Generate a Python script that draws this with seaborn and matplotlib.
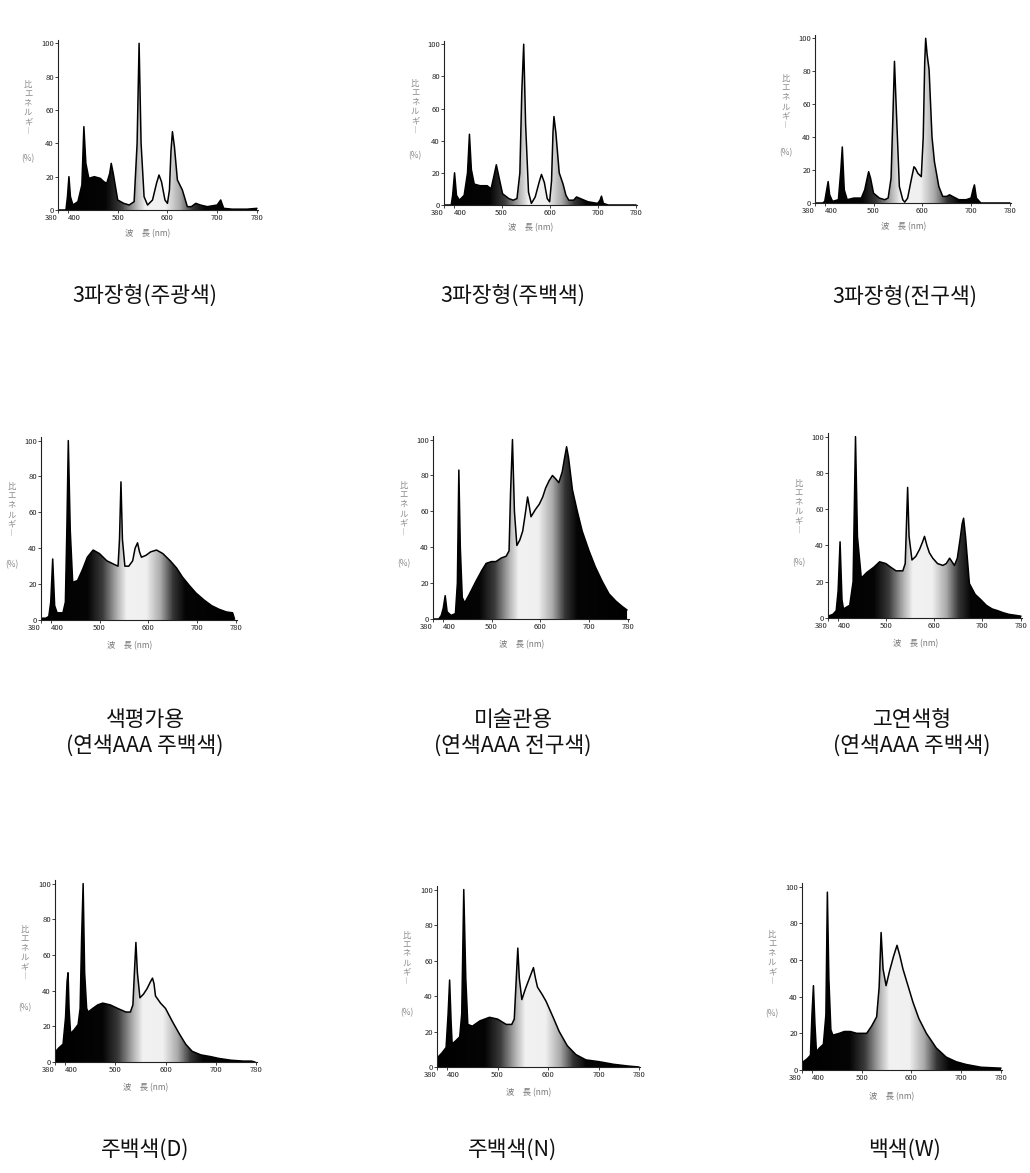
import numpy as np
import pandas as pd
import seaborn as sns
import matplotlib.pyplot as plt
from matplotlib.colors import LinearSegmentedColormap

# spectra: wavelength (nm) / relative energy (%)
wl1 = [380, 396, 399, 402, 405, 410, 420, 428, 432, 436, 442, 453, 465, 472, 478, 484, 487, 491,
       500, 512, 523, 533, 539, 543, 547, 553, 560, 570, 578, 583, 588, 595, 600, 604, 607, 610,
       614, 620, 630, 640, 648, 657, 666, 680, 700, 707, 713, 730, 760, 780]
val1 = [0, 0, 8, 20, 8, 3, 5, 15, 50, 28, 19, 20, 19, 17, 16, 22, 28, 22,
        6, 4, 3, 5, 40, 100, 40, 8, 3, 6, 16, 21, 17, 6, 4, 12, 35, 47,
        38, 18, 12, 2, 2, 4, 3, 2, 3, 6, 1, 0.5, 0.5, 1]

wl2 = [380, 395, 398, 402, 406, 412, 422, 429, 433, 437, 443, 455, 470, 478, 484, 489, 494, 502,
       515, 524, 532, 538, 542, 546, 550, 556, 562, 570, 578, 583, 589, 595, 600, 604, 607, 609,
       613, 620, 628, 634, 640, 650, 656, 664, 680, 700, 705, 708, 712, 722, 780]
val2 = [0, 0, 6, 20, 6, 3, 6, 20, 44, 22, 13, 12, 12, 10, 18, 25, 18, 7,
        4, 3, 4, 20, 70, 100, 50, 8, 1, 5, 14, 19, 14, 4, 2, 15, 45, 55,
        45, 20, 13, 6, 3, 3, 5, 4, 2, 1, 3, 5.5, 1, 0, 0]

wl3 = [380, 396, 400, 404, 407, 410, 416, 428, 433, 436, 440, 446, 460, 475, 482, 487, 490, 494,
       500, 512, 523, 530, 536, 540, 543, 547, 553, 560, 564, 570, 578, 583, 586, 591, 598, 602,
       605, 607, 610, 614, 620, 625, 628, 634, 642, 650, 656, 662, 675, 690, 700, 704, 707, 711,
       720, 780]
val3 = [0, 0, 1, 8, 13, 5, 1, 2, 20, 34, 8, 2, 3, 3, 8, 15, 19, 15,
        6, 3, 2, 3, 15, 55, 86, 55, 10, 2, 0.5, 3, 15, 22, 21, 18, 16, 40,
        85, 100, 90, 81, 40, 25, 20, 10, 4, 4, 5, 4, 2, 2, 3, 8, 11, 3,
        0, 0]

wl4 = [380, 390, 396, 400, 404, 408, 413, 425, 430, 433, 436, 440, 445, 455, 465, 475, 487, 500,
       515, 530, 538, 541, 544, 547, 552, 560, 568, 573, 578, 582, 586, 595, 605, 617, 630, 645,
       658, 670, 685, 698, 715, 730, 745, 760, 773, 777]
val4 = [1, 1, 2, 10, 34, 8, 4, 4, 10, 50, 100, 50, 21, 22, 28, 35, 39, 37,
        33, 31, 30, 45, 77, 45, 30, 30, 33, 40, 43, 38, 35, 36, 38, 39, 37, 33,
        29, 24, 19, 15, 11, 8, 6, 4.5, 4, 0.5]

wl5 = [380, 392, 397, 401, 405, 409, 417, 426, 430, 433, 436, 440, 445, 455, 468, 480, 489, 500,
       509, 520, 530, 536, 539, 543, 547, 552, 558, 564, 570, 574, 578, 581, 590, 598, 605, 611,
       618, 625, 632, 638, 645, 650, 654, 658, 666, 676, 686, 700, 713, 727, 741, 755, 768, 778]
val5 = [0, 0, 2, 6, 13, 4, 2, 3, 20, 83, 40, 12, 9, 14, 21, 27, 31, 32,
        32, 34, 35, 38, 70, 100, 60, 41, 44, 49, 60, 68, 62, 57, 61, 64, 68, 73,
        77, 80, 78, 76, 82, 90, 96, 90, 72, 60, 49, 38, 29, 21, 14, 10, 7, 5]

wl6 = [380, 390, 397, 401, 405, 409, 412, 425, 432, 437, 441, 449, 460, 475, 487, 500, 510, 521,
       535, 540, 543, 545, 548, 554, 562, 570, 576, 580, 585, 590, 597, 607, 618, 625, 632, 637,
       642, 648, 654, 658, 661, 665, 673, 685, 697, 708, 720, 732, 742, 755, 768, 780]
val6 = [1, 2, 4, 15, 42, 10, 5, 7, 20, 100, 45, 22, 25, 28, 31, 30, 28, 26,
        26, 30, 55, 72, 45, 32, 34, 38, 42, 45, 40, 36, 33, 30, 29, 30, 33, 31,
        29, 33, 44, 52, 55, 45, 19, 13, 10, 7, 5, 4, 3, 2, 1.5, 1]

wl7 = [380, 388, 396, 401, 404, 406, 408, 411, 418, 426, 430, 433, 436, 439, 443, 446, 455, 465,
       475, 490, 505, 521, 530, 535, 538, 541, 544, 549, 556, 563, 570, 574, 577, 580, 590, 600,
       613, 627, 640, 653, 670, 690, 706, 730, 755, 771, 778]
val7 = [5.5, 8, 10, 25, 45, 50, 30, 16, 18, 21, 30, 70, 100, 50, 30, 28, 30, 32,
        33, 32, 30, 28, 28, 32, 50, 67, 50, 36, 38, 41, 45, 47, 44, 37, 33, 30,
        23, 16, 10, 6, 4, 3, 2, 1, 0.5, 0.5, 0]

wl8 = [380, 390, 398, 402, 405, 408, 410, 418, 425, 429, 433, 437, 441, 450, 465, 484, 500, 517,
       528, 533, 537, 540, 543, 548, 555, 563, 571, 575, 579, 588, 596, 610, 622, 638, 655, 675,
       701, 730, 760, 780]
val8 = [5, 8, 11, 30, 49, 25, 13, 15, 17, 30, 100, 50, 24, 23, 26, 28, 27, 24,
        24, 27, 50, 67, 50, 38, 44, 50, 56, 50, 45, 41, 37, 28, 20, 12, 7, 4,
        3, 1.5, 0.5, 0]

wl9 = [380, 390, 397, 400, 403, 406, 409, 415, 423, 428, 431, 434, 438, 442, 455, 465, 477, 490,
       500, 510, 520, 530, 535, 539, 543, 549, 556, 564, 571, 577, 583, 593, 603, 615, 630, 650,
       670, 690, 710, 740, 780]
val9 = [4, 6, 8, 30, 46, 25, 10, 12, 14, 30, 97, 50, 22, 19, 20, 21, 21, 20,
        20, 20, 24, 29, 45, 75, 55, 46, 54, 62, 68, 62, 55, 46, 37, 28, 20, 12,
        7, 4.5, 3, 1.5, 1]

captions = ["3파장형(주광색)", "3파장형(주백색)", "3파장형(전구색)",
            "색평가용\n(연색AAA 주백색)", "미술관용\n(연색AAA 전구색)", "고연색형\n(연색AAA 주백색)",
            "주백색(D)", "주백색(N)", "백색(W)"]
x_ticks = [380, 400, 500, 600, 700, 780]
y_ticks = [0, 20, 40, 60, 80, 100]

spectra = [(wl1, val1), (wl2, val2), (wl3, val3),
           (wl4, val4), (wl5, val5), (wl6, val6),
           (wl7, val7), (wl8, val8), (wl9, val9)]

# axes boxes in pixels: left, top, right, bottom
W, H = 1030, 1173
boxes = [(58, 40, 258, 210), (444, 41, 637, 205), (815, 35, 1011, 203),
         (41, 437, 237, 620), (433, 436, 629, 619), (828, 433, 1022, 618),
         (55, 880, 257, 1062), (437, 886, 640, 1067), (802, 883, 1002, 1070)]
cap_pos = [(145, 297), (513, 297), (905, 297),
           (145, 733), (513, 733), (912, 733),
           (145, 1150), (513, 1150), (905, 1150)]

# grey shading along wavelength, dark at the ends, light around yellow-green
stops = [(380, "#000000"), (475, "#050505"), (505, "#3a3a3a"), (535, "#b0b0b0"),
         (555, "#f2f2f2"), (595, "#f0f0f0"), (625, "#a8a8a8"), (650, "#353535"),
         (675, "#050505"), (780, "#000000")]
shade = LinearSegmentedColormap.from_list(
    "spec", [((w - 380) / 400, c) for w, c in stops])

sns.set_theme(style="ticks")
plt.rcParams["font.family"] = ["Noto Sans CJK KR", "DejaVu Sans"]

fig = plt.figure(figsize=(W / 100, H / 100), dpi=100)

for (wl, val), (l, t, r, b) in zip(spectra, boxes):
    ax = fig.add_axes([l / W, 1 - b / H, (r - l) / W, (b - t) / H])
    df = pd.DataFrame({"wl": wl, "val": val})
    poly = ax.fill_between(df["wl"], 0, df["val"], facecolor="none", edgecolor="none")
    img = ax.imshow(np.linspace(380, 780, 401)[None, :], cmap=shade, vmin=380, vmax=780,
                    extent=[380, 780, 0, 100], aspect="auto", interpolation="bilinear")
    img.set_clip_path(poly.get_paths()[0], transform=ax.transData)
    sns.lineplot(data=df, x="wl", y="val", ax=ax, color="black", linewidth=1.1)

    ax.set_xlim(380, 782)
    ax.set_ylim(0, 102)
    ax.set_xticks(x_ticks)
    ax.set_yticks(y_ticks)
    ax.set_xlabel("")
    ax.set_ylabel("")
    ax.tick_params(labelsize=5.5, length=2, width=0.6, pad=1, colors="#222")
    xl = ax.get_xticklabels()
    xl[0].set_ha("right")
    xl[1].set_ha("left")
    for s in ["top", "right"]:
        ax.spines[s].set_visible(False)
    for s in ["left", "bottom"]:
        ax.spines[s].set_linewidth(0.8)
        ax.spines[s].set_color("#222")
    ax.text(-0.15, 0.6, "比\nエ\nネ\nル\nギ\n︱", transform=ax.transAxes, fontsize=6,
            color="#888", ha="center", va="center", linespacing=1.05,
            family=["Noto Sans CJK JP", "DejaVu Sans"])
    ax.text(-0.15, 0.3, "(%)", transform=ax.transAxes, fontsize=6, color="#888",
            ha="center", va="center")
    ax.text(0.45, -0.14, "波　長 (nm)", transform=ax.transAxes, fontsize=6, color="#777",
            ha="center", va="center", family=["Noto Sans CJK JP", "DejaVu Sans"])

for cap, (cx, cy) in zip(captions, cap_pos):
    fig.text(cx / W, 1 - cy / H, cap, fontsize=15.5, ha="center", va="center",
             linespacing=1.25, color="#111")

fig.savefig("out.png", dpi=100, facecolor="white")
